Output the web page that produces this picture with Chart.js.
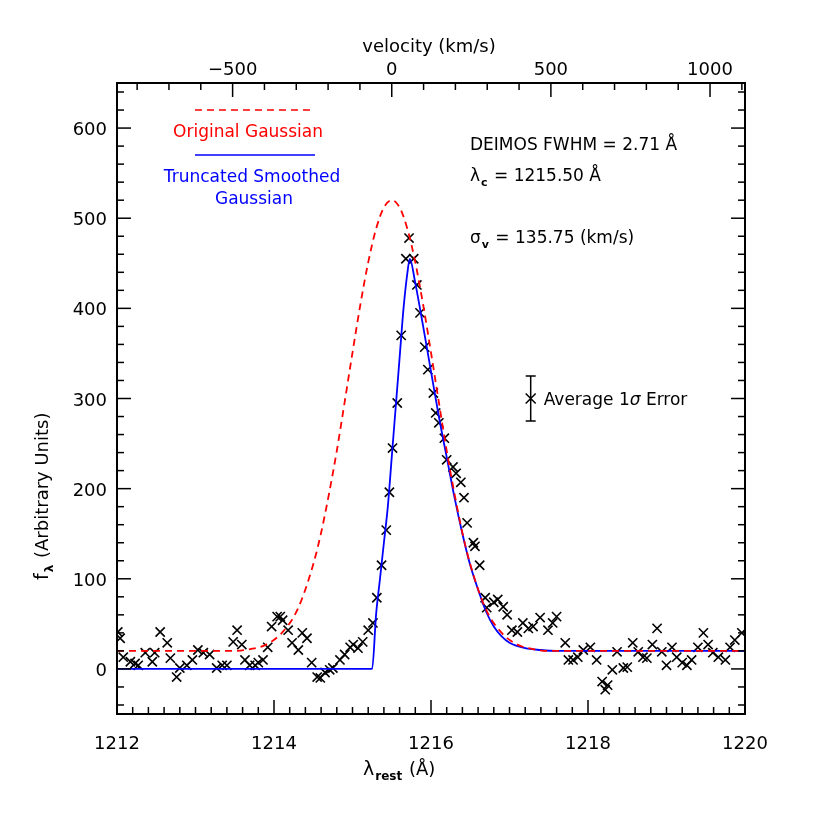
<!DOCTYPE html>
<html><head><meta charset="utf-8">
<script src="https://cdn.jsdelivr.net/npm/chart.js@4"></script>
<style>body{margin:0;background:#fff}#wrap{width:830px;height:830px}</style>
</head><body><div id="wrap"><canvas id="c" width="830" height="830"></canvas></div>
<script>
// observed points
const obsX = [1212.01,1212.04,1212.08,1212.17,1212.23,1212.27,1212.36,1212.45,1212.48,1212.55,1212.64,1212.68,1212.76,1212.80,1212.89,1212.96,1213.03,1213.10,1213.18,1213.27,1213.34,1213.40,1213.48,1213.53,1213.59,1213.63,1213.69,1213.76,1213.80,1213.86,1213.92,1213.97,1214.04,1214.08,1214.11,1214.18,1214.23,1214.31,1214.36,1214.42,1214.48,1214.55,1214.59,1214.65,1214.71,1214.75,1214.84,1214.90,1214.97,1215.01,1215.07,1215.13,1215.20,1215.26,1215.31,1215.37,1215.43,1215.47,1215.51,1215.57,1215.62,1215.68,1215.72,1215.78,1215.82,1215.86,1215.92,1215.96,1216.03,1216.06,1216.10,1216.17,1216.20,1216.28,1216.32,1216.38,1216.42,1216.46,1216.54,1216.56,1216.62,1216.69,1216.71,1216.80,1216.85,1216.92,1216.97,1217.03,1217.10,1217.17,1217.24,1217.30,1217.39,1217.49,1217.55,1217.60,1217.71,1217.75,1217.81,1217.87,1217.94,1218.03,1218.11,1218.18,1218.22,1218.25,1218.31,1218.37,1218.45,1218.50,1218.57,1218.64,1218.70,1218.75,1218.82,1218.88,1218.94,1219.00,1219.07,1219.13,1219.20,1219.26,1219.32,1219.40,1219.47,1219.53,1219.59,1219.66,1219.75,1219.81,1219.87,1219.96];
const obsY = [41,34,13,8,6,4,18,8,18,41,29,12,-9,1,4,10,21,18,16,1,4,4,30,43,27,10,4,4,7,10,24,47,58,58,54,43,29,21,40,34,7,-9,-10,-4,-1,1,10,16,24,27,23,30,43,51,79,115,154,196,245,295,370,455,478,455,426,395,357,332,306,284,273,256,232,224,217,207,190,162,140,136,115,79,68,74,77,69,60,43,41,51,45,47,57,43,51,58,29,10,10,13,21,24,10,-14,-23,-18,-1,19,1,2,29,19,13,12,27,45,19,4,24,13,7,4,10,24,40,27,18,13,10,24,32,40];
// original gaussian (red dashed)
const gaussX = [1212,1213.5,1213.7,1213.9,1214.1,1214.3,1214.5,1214.6,1214.7,1214.8,1214.9,1215.0,1215.1,1215.2,1215.3,1215.4,1215.5,1215.6,1215.7,1215.8,1215.9,1216.0,1216.1,1216.2,1216.3,1216.4,1216.5,1216.7,1216.9,1217.1,1217.3,1217.5,1220];
const gaussY = [20,20,22,27,40,66,116,151,194,242,296,351,404,451,488,512,520,512,488,451,404,351,296,242,194,151,116,66,40,27,22,20,20];
// truncated smoothed gaussian (blue)
const smoothX = [1212,1215.25,1215.3,1215.35,1215.4,1215.45,1215.5,1215.55,1215.6,1215.65,1215.7,1215.73,1215.8,1215.9,1216.0,1216.1,1216.2,1216.3,1216.4,1216.5,1216.6,1216.7,1216.8,1216.9,1217.0,1217.2,1217.4,1217.6,1220];
const smoothY = [0,0,60,100,140,180,235,290,345,400,440,455,428,380,330,280,235,190,150,115,88,64,47,36,29,23,21,20,20];

const FONT = '"DejaVu Sans", sans-serif';
const zip = (xs, ys) => xs.map((x, i) => ({x: x, y: ys[i]}));

function sub(ctx, base, s, x, y, size) {
    ctx.textAlign = 'left';
    ctx.font = size + 'px ' + FONT;
    const w1 = ctx.measureText(base).width;
    ctx.fillText(base, x, y);
    ctx.font = 'bold ' + Math.round(size * 0.62) + 'px ' + FONT;
    const w2 = ctx.measureText(s).width;
    ctx.fillText(s, x + w1 + 1, y + size * 0.28);
    return x + w1 + w2 + 2;
}

const deco = {
    id: 'deco',
    afterDraw(chart) {
        const ctx = chart.ctx, a = chart.chartArea;
        const xs = chart.scales.x, ys = chart.scales.y, vs = chart.scales.v;
        ctx.save();
        ctx.strokeStyle = '#000'; ctx.lineWidth = 2;
        ctx.strokeRect(a.left, a.top, a.right - a.left, a.bottom - a.top);
        ctx.lineWidth = 1.5;
        ctx.fillStyle = '#000';
        ctx.font = '18px ' + FONT;
        // bottom axis
        for (let v = 1212; v <= 1220.001; v += 0.2) {
            const p = xs.getPixelForValue(v);
            const major = Math.abs(v / 2 - Math.round(v / 2)) < 0.01;
            const L = major ? 14 : 7;
            ctx.beginPath(); ctx.moveTo(p, a.bottom); ctx.lineTo(p, a.bottom - L); ctx.stroke();
            if (major) { ctx.textAlign = 'center'; ctx.fillText(Math.round(v), p, a.bottom + 35); }
        }
        // top velocity axis
        for (let v = -800; v <= 1100; v += 100) {
            const p = vs.getPixelForValue(v);
            const major = v % 500 === 0;
            const L = major ? 14 : 7;
            ctx.beginPath(); ctx.moveTo(p, a.top); ctx.lineTo(p, a.top + L); ctx.stroke();
            if (major) { ctx.textAlign = 'center'; ctx.fillText(v < 0 ? '\u2212' + (-v) : v, p, a.top - 8); }
        }
        // left / right axis
        for (let v = -40; v <= 640; v += 20) {
            const p = ys.getPixelForValue(v);
            const major = v % 100 === 0;
            const L = major ? 14 : 7;
            ctx.beginPath(); ctx.moveTo(a.left, p); ctx.lineTo(a.left + L, p); ctx.stroke();
            ctx.beginPath(); ctx.moveTo(a.right, p); ctx.lineTo(a.right - L, p); ctx.stroke();
            if (major) { ctx.textAlign = 'right'; ctx.fillText(v, a.left - 10, p + 7); }
        }
        // axis titles
        ctx.font = '18px ' + FONT; ctx.textAlign = 'center';
        ctx.fillText('velocity (km/s)', (a.left + a.right) / 2 - 2, 52);
        let e = sub(ctx, '\u03bb', 'rest', 363, 775, 19);
        ctx.font = '18px ' + FONT; ctx.textAlign = 'left'; ctx.fillText(' (\u00c5)', e, 775);
        ctx.save(); ctx.translate(48, 400); ctx.rotate(-Math.PI / 2);
        e = sub(ctx, 'f', '\u03bb', -180, 0, 19);
        ctx.font = '18px ' + FONT; ctx.fillText(' (Arbitrary Units)', e, 0);
        ctx.restore();
        // legend
        ctx.font = '17px ' + FONT; ctx.textAlign = 'center';
        ctx.strokeStyle = '#ff0000'; ctx.setLineDash([7, 5]); ctx.lineWidth = 1.5;
        ctx.beginPath(); ctx.moveTo(195, 110); ctx.lineTo(315, 110); ctx.stroke();
        ctx.setLineDash([]);
        ctx.fillStyle = '#ff0000'; ctx.fillText('Original Gaussian', 248, 137);
        ctx.strokeStyle = '#0000ff';
        ctx.beginPath(); ctx.moveTo(195, 155); ctx.lineTo(315, 155); ctx.stroke();
        ctx.fillStyle = '#0000ff';
        ctx.fillText('Truncated Smoothed', 252, 182);
        ctx.fillText('Gaussian', 254, 204);
        // annotations
        ctx.fillStyle = '#000'; ctx.textAlign = 'left'; ctx.font = '17px ' + FONT;
        ctx.fillText('DEIMOS FWHM = 2.71 \u00c5', 470, 150);
        e = sub(ctx, '\u03bb', 'c', 470, 181, 17);
        ctx.font = '17px ' + FONT; ctx.fillText(' = 1215.50 \u00c5', e, 181);
        e = sub(ctx, '\u03c3', 'v', 470, 243, 17);
        ctx.font = '17px ' + FONT; ctx.fillText(' = 135.75 (km/s)', e, 243);
        // error bar example
        const ex = xs.getPixelForValue(1217.27);
        const y1 = ys.getPixelForValue(325), y2 = ys.getPixelForValue(275), ym = ys.getPixelForValue(300);
        ctx.strokeStyle = '#000'; ctx.lineWidth = 1.5;
        ctx.beginPath(); ctx.moveTo(ex, y1); ctx.lineTo(ex, y2);
        ctx.moveTo(ex - 5, y1); ctx.lineTo(ex + 5, y1); ctx.moveTo(ex - 5, y2); ctx.lineTo(ex + 5, y2);
        ctx.moveTo(ex - 5, ym - 5); ctx.lineTo(ex + 5, ym + 5); ctx.moveTo(ex - 5, ym + 5); ctx.lineTo(ex + 5, ym - 5);
        ctx.stroke();
        ctx.font = '17px ' + FONT;
        ctx.fillText('Average 1', ex + 13, ym + 6);
        const w = ctx.measureText('Average 1').width;
        ctx.font = 'italic 17px ' + FONT; ctx.fillText('\u03c3', ex + 13 + w, ym + 6);
        const w2 = ctx.measureText('\u03c3').width;
        ctx.font = '17px ' + FONT; ctx.fillText(' Error', ex + 13 + w + w2, ym + 6);
        ctx.restore();
    }
};

const c = 299792.458, lam0 = 1215.5;
new Chart(document.getElementById('c'), {
    type: 'scatter',
    data: {
        datasets: [
            { data: zip(gaussX, gaussY), showLine: true, borderColor: '#ff0000', borderWidth: 1.8, borderDash: [7, 5], pointRadius: 0, cubicInterpolationMode: 'monotone' },
            { data: zip(smoothX, smoothY), showLine: true, borderColor: '#0000ff', borderWidth: 1.8, pointRadius: 0, cubicInterpolationMode: 'monotone' },
            { data: zip(obsX, obsY), pointStyle: 'crossRot', pointRadius: 6.5, borderColor: '#000', borderWidth: 1.6, backgroundColor: '#000' }
        ]
    },
    options: {
        responsive: false, animation: false,
        layout: { padding: { left: 117, right: 85, top: 83, bottom: 116 } },
        plugins: { legend: { display: false }, tooltip: { enabled: false } },
        scales: {
            x: { type: 'linear', min: 1212, max: 1220, display: false },
            v: { type: 'linear', position: 'top', min: (1212 - lam0) / lam0 * c, max: (1220 - lam0) / lam0 * c, display: false },
            y: { type: 'linear', min: -50, max: 650, display: false }
        }
    },
    plugins: [deco]
});
</script>
</body></html>
